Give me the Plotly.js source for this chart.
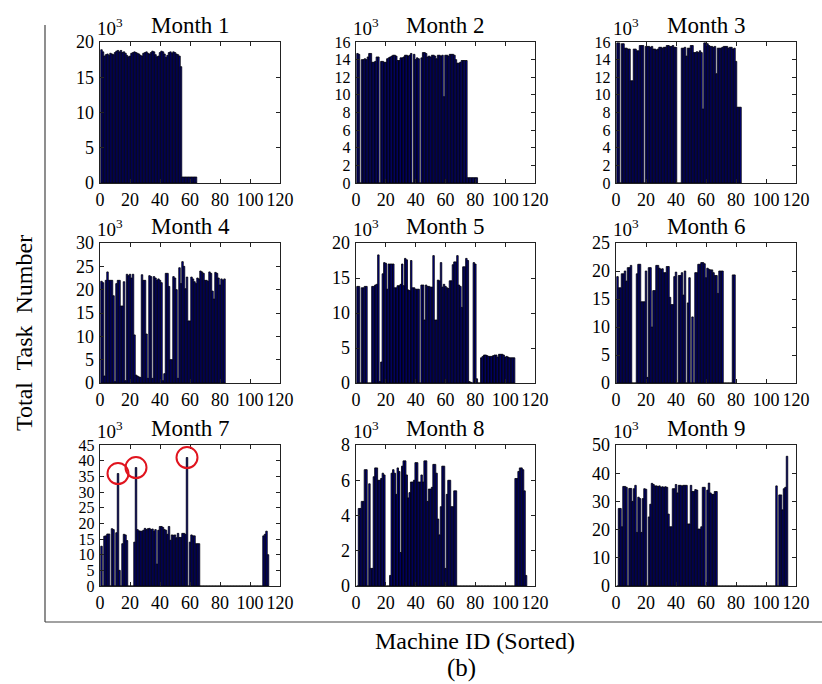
<!DOCTYPE html>
<html>
<head>
<meta charset="utf-8">
<script src="https://cdn.plot.ly/plotly-3.0.1.min.js"></script>
<style>html,body{margin:0;padding:0;background:#fff;}#chart{width:822px;height:684px;}</style>
</head>
<body>
<div id="chart"></div>
<script>
// ---- DATA (values in 10^3 tasks, machine IDs 1..n) ----
const monthNames = ["Month 1","Month 2","Month 3","Month 4","Month 5","Month 6","Month 7","Month 8","Month 9"];
const xTicks = [0,20,40,60,80,100,120];

const m1 = [18.9,18.6,18.0,18.2,18.3,18.1,18.4,18.3,18.2,18.5,
  18.7,18.8,18.6,18.8,18.5,18.6,18.4,18.1,17.9,18.0,
  18.4,18.5,18.6,18.5,18.4,18.3,18.1,18.0,18.4,18.5,
  18.6,18.4,18.3,18.5,18.7,18.6,18.2,17.9,18.0,18.5,
  18.7,18.6,18.3,17.8,18.1,18.5,18.6,18.4,18.6,18.5,
  18.3,18.2,18.0,16.5,0.85,0.85,0.85,0.85,0.85,0.85,
  0.85,0.85,0.85,0.85];
const m2 = [14.7,14.6,0,14.0,14.0,14.1,14.0,14.3,14.7,14.7,
  13.7,13.7,13.8,14.3,14.3,0,13.8,13.8,13.7,13.7,
  14.1,14.2,14.3,14.4,14.5,14.5,14.4,13.9,13.9,14.2,
  14.2,14.3,14.5,14.5,14.4,14.5,14.7,0,14.6,14.0,
  14.2,14.1,0,14.2,14.8,14.8,14.7,14.3,14.4,14.3,
  14.5,14.5,14.4,14.1,14.5,14.5,14.4,14.5,9.8,14.5,
  14.5,14.4,14.6,14.6,14.6,14.5,14.0,13.6,13.6,13.7,
  13.9,13.9,13.9,13.9,0.6,0.6,0.6,0.6,0.6,0.6,0.6];
const m3 = [15.9,15.9,0,15.8,15.8,15.3,15.3,15.2,15.2,11.6,
  11.6,15.2,15.2,15.0,15.0,15.6,15.6,15.6,0,15.5,
  15.5,15.5,15.4,15.5,15.2,15.2,15.1,15.2,15.4,15.4,
  15.3,15.4,15.4,15.6,15.6,15.5,15.5,15.6,15.4,15.4,
  0,0,0,15.3,15.3,15.4,14.4,15.3,15.3,15.6,
  15.6,14.8,14.8,14.9,14.8,15.0,14.8,8.4,15.9,15.9,
  15.8,15.6,15.5,15.5,15.4,15.5,12.4,15.3,15.3,15.3,
  15.4,15.5,15.5,15.5,15.3,15.4,15.4,15.2,15.3,13.8,
  8.6,8.6,8.6];
const m4 = [21.8,21.5,1.5,22.0,23.8,22.0,22.0,22.0,18.7,0.3,
  21.3,22.0,22.0,16.5,16.5,21.7,0.5,23.3,23.0,23.3,
  22.5,23.3,10.3,1.7,1.5,1.3,1.2,23.2,22.0,22.0,
  10.5,1.0,23.0,22.8,1.0,22.8,22.5,22.0,22.3,22.0,
  21.5,0.5,2.0,23.5,23.5,20.7,5.0,5.0,22.8,22.5,
  20.0,1.0,24.7,21.3,26.0,25.0,20.2,22.7,13.3,13.3,
  22.7,22.3,21.7,21.3,22.5,22.3,24.0,23.8,23.5,22.0,
  22.0,21.8,23.8,23.5,19.7,18.0,23.7,23.5,22.5,21.0,
  22.3,22.0,22.3];
const m5 = [13.8,13.8,0,13.6,13.6,13.8,13.8,0,0,0,
  13.8,13.8,14.0,14.1,18.3,0.2,3.0,15.6,17.2,17.1,
  13.4,17.0,17.0,17.0,17.0,13.6,13.6,13.9,13.9,14.1,
  17.0,13.9,17.8,17.6,13.3,13.2,17.5,13.6,13.6,13.4,
  13.4,13.4,0,14.0,14.0,9.0,14.0,13.8,13.8,13.7,
  13.7,18.2,9.0,9.0,14.7,14.6,17.2,13.7,14.1,13.8,
  13.6,13.5,14.6,14.6,16.9,17.3,17.3,18.2,14.0,13.8,
  10.8,16.6,16.6,17.8,17.5,0.2,0.1,0,17.2,17.0,
  0.6,0,0,3.6,3.8,4.0,4.0,3.9,3.8,3.8,
  3.8,3.9,4.0,4.0,3.7,4.1,4.1,4.1,4.0,3.7,
  3.8,3.7,3.6,3.6,3.6,3.6];
const m6 = [19.0,17.0,17.0,19.5,19.5,20.0,18.2,20.6,20.6,21.0,
  0,0,0,19.5,21.2,21.2,14.5,14.5,14.5,20.0,
  1.0,20.6,20.6,10.0,16.5,16.5,21.0,21.0,20.5,20.3,
  20.4,19.7,19.7,20.8,20.8,15.3,14.0,14.0,19.0,19.8,
  0,19.2,19.2,19.7,15.7,20.0,0,14.3,18.8,0,
  11.8,0,19.7,19.7,21.2,21.2,21.5,21.5,21.3,18.8,
  20.5,20.3,20.2,20.2,19.7,19.2,19.2,16.0,20.0,20.0,
  20.0,0,0,0,0,0,0,19.3,19.3];
const m7 = [12.7,0,15.9,16.0,16.6,16.6,0,18.3,18.0,0,
  17.0,35.9,5.0,0,13.5,16.5,16.3,14.5,0,0,
  0,0,14.0,37.8,18.0,17.6,17.5,17.5,17.8,18.4,
  18.0,18.3,18.4,18.0,18.2,17.5,18.0,7.0,17.8,19.0,
  19.0,18.7,18.0,17.8,16.5,19.0,14.6,16.3,16.2,16.3,
  15.4,16.8,15.5,15.5,16.8,16.8,16.5,41.0,0,14.0,
  16.3,16.0,16.0,13.5,13.5,13.5,0,0,0,0,
  0,0,0,0,0,0,0,0,0,0,
  0,0,0,0,0,0,0,0,0,0,
  0,0,0,0,0,0,0,0,0,0,
  0,0,0,0,0,0,0,0,16.0,16.5,
  17.5,10.0];
const m8 = [0,4.4,4.4,4.8,4.8,6.6,6.6,0,5.8,1.0,
  1.0,6.2,6.7,6.7,6.0,6.0,6.1,6.4,6.3,0,
  0,0,0.6,6.4,6.6,6.4,5.2,6.7,6.5,1.9,
  6.8,7.1,7.1,6.3,5.0,5.3,5.9,5.9,6.0,7.0,
  7.0,5.9,5.9,6.3,5.9,7.1,7.1,4.8,5.5,5.5,
  5.6,6.9,6.9,6.4,3.8,2.9,4.5,6.8,6.8,1.0,
  5.2,6.0,6.0,4.5,4.5,5.4,5.4,0,0,0,
  0,0,0,0,0,0,0,0,0,0,
  0,0,0,0,0,0,0,0,0,0,
  0,0,0,0,0,0,0,0,0,0,
  0,0,0,0,0,0,6.1,6.1,6.5,6.7,
  6.7,6.6,5.4,0.6];
const m9 = [0,27.5,27.5,21.0,35.3,35.3,35.0,0,34.6,34.6,
  30.0,34.5,35.7,19.0,31.5,31.0,19.0,31.0,34.5,34.3,
  0,24.5,29.0,36.4,36.0,35.5,35.5,35.3,35.5,35.0,
  35.2,35.0,35.2,35.0,25.5,21.0,21.0,34.5,34.5,36.0,
  33.0,35.7,35.7,35.5,35.7,35.7,35.7,22.0,22.0,35.7,
  33.5,33.5,34.2,34.0,20.2,20.2,21.0,35.0,35.0,0,
  34.0,36.5,33.0,32.5,32.5,33.5,33.5,0,0,0,
  0,0,0,0,0,0,0,0,0,0,
  0,0,0,0,0,0,0,0,0,0,
  0,0,0,0,0,0,0,0,0,0,
  0,0,0,0,0,0,35.5,0,32.3,32.3,
  27.0,34.5,35.0,46.0];

const yMax = [20,16,16,30,20,25,45,8,50];
const yStep = [5,2,2,5,5,5,5,2,10];
const yFont = [18,16,16,18,18,18,16,18,18];

// ---- LAYOUT GEOMETRY (pixels) ----
const W = 822, H = 684;
const colX = [[100,280],[356,535],[616,796]];
const rowY = [[42,183],[243,383],[445,586]];
const px = v => v / W;
const py = v => 1 - v / H;

const series = [m1,m2,m3,m4,m5,m6,m7,m8,m9];
const serif = "Liberation Serif, Times New Roman, serif";
const data = [];
const layout = {
  width: W, height: H,
  margin: {l:0, r:0, t:0, b:0},
  paper_bgcolor: "#fff", plot_bgcolor: "#fff",
  showlegend: false, bargap: 0,
  annotations: [], shapes: []
};

series.forEach((vals, i) => {
  const n = i + 1;
  const r = Math.floor(i / 3), c = i % 3;
  const ids = vals.map((_, k) => k + 1);
  data.push({
    type: "bar", x: ids, y: vals,
    xaxis: "x" + n, yaxis: "y" + n,
    width: 1,
    marker: {color: "#0000a0", line: {color: "#000", width: 0.8}},
    hoverinfo: "x+y"
  });
  const yT = [];
  for (let v = 0; v <= yMax[i] + 1e-9; v += yStep[i]) yT.push(v);
  const common = {
    showline: true, linecolor: "#222", linewidth: 1.3, mirror: "ticks",
    ticks: "inside", ticklen: 4, tickwidth: 1, tickcolor: "#222",
    showgrid: false, zeroline: false, tickangle: 0,
    tickfont: {family: serif, size: 18, color: "#000"}
  };
  layout["xaxis" + n] = Object.assign({}, common, {
    domain: [px(colX[c][0]), px(colX[c][1])],
    anchor: "y" + n, range: [0, 120],
    tickmode: "array", tickvals: xTicks, ticktext: xTicks.map(String)
  });
  layout["yaxis" + n] = Object.assign({}, common, {
    domain: [py(rowY[r][1]), py(rowY[r][0])],
    anchor: "x" + n, range: [0, yMax[i]],
    tickmode: "array", tickvals: yT, ticktext: yT.map(String),
    ticklabelstandoff: 1,
    tickfont: {family: serif, size: yFont[i], color: "#000"}
  });
  layout.annotations.push({
    xref: "paper", yref: "paper",
    x: px((colX[c][0] + colX[c][1]) / 2), y: py(rowY[r][0] - 17),
    text: monthNames[i], showarrow: false,
    xanchor: "center", yanchor: "middle",
    font: {family: serif, size: 23, color: "#000"}
  });
  layout.annotations.push({
    xref: "paper", yref: "paper",
    x: px(colX[c][0] - 5), y: py(rowY[r][0] - 15),
    text: "10<sup>3</sup>", showarrow: false,
    xanchor: "left", yanchor: "middle",
    font: {family: serif, size: 19, color: "#000"}
  });
});

// red circles in Month 7 (around the three spikes)
const circles = [[12, 35.9], [24, 37.8], [58, 41.0]];
circles.forEach(([cx, cy]) => {
  layout.shapes.push({
    type: "circle", xref: "x7", yref: "y7",
    xsizemode: "pixel", ysizemode: "pixel",
    xanchor: cx, yanchor: cy,
    x0: -10.5, x1: 10.5, y0: -10.5, y1: 10.5,
    line: {color: "#e0141e", width: 2}
  });
});

// outer L frame
layout.shapes.push({type: "line", xref: "paper", yref: "paper",
  x0: px(45), x1: px(45), y0: py(25), y1: py(622), line: {color: "#444", width: 1.2}});
layout.shapes.push({type: "line", xref: "paper", yref: "paper",
  x0: px(45), x1: px(822), y0: py(622), y1: py(622), line: {color: "#444", width: 1.2}});

layout.annotations.push({
  xref: "paper", yref: "paper", x: px(24), y: py(333),
  text: "Total  Task  Number", textangle: -90, showarrow: false,
  xanchor: "center", yanchor: "middle",
  font: {family: serif, size: 24, color: "#000"}
});
layout.annotations.push({
  xref: "paper", yref: "paper", x: px(475), y: py(641),
  text: "Machine ID (Sorted)", showarrow: false,
  xanchor: "center", yanchor: "middle",
  font: {family: serif, size: 24, color: "#000"}
});
layout.annotations.push({
  xref: "paper", yref: "paper", x: px(461), y: py(668),
  text: "(b)", showarrow: false,
  xanchor: "center", yanchor: "middle",
  font: {family: serif, size: 25, color: "#000"}
});

Plotly.newPlot("chart", data, layout, {staticPlot: true, displayModeBar: false});
</script>
</body>
</html>
